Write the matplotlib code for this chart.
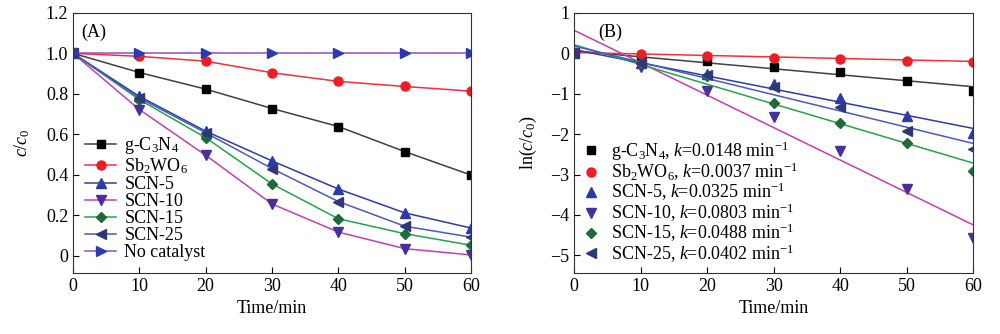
import numpy as np
import matplotlib
matplotlib.use('Agg')
import matplotlib.pyplot as plt

plt.rcParams['font.family'] = ['Liberation Serif', 'DejaVu Serif']
plt.rcParams['mathtext.fontset'] = 'custom'
plt.rcParams['mathtext.rm'] = 'Liberation Serif'
plt.rcParams['mathtext.it'] = 'Liberation Serif:italic'

# 数据
t = [0, 10, 20, 30, 40, 50, 60]
names = ['g-C$_3$N$_4$', 'Sb$_2$WO$_6$', 'SCN-5', 'SCN-10', 'SCN-15', 'SCN-25', 'No catalyst']
g_c3n4 = [1.0, 0.905, 0.823, 0.727, 0.638, 0.514, 0.398]
sb2wo6 = [1.0, 0.985, 0.961, 0.904, 0.861, 0.836, 0.813]
scn5 = [1.0, 0.787, 0.615, 0.468, 0.329, 0.211, 0.136]
scn10 = [1.0, 0.722, 0.496, 0.255, 0.116, 0.034, 0.003]
scn15 = [1.0, 0.771, 0.583, 0.354, 0.182, 0.108, 0.051]
scn25 = [1.0, 0.779, 0.607, 0.430, 0.267, 0.145, 0.091]
no_cat = [1.0, 1.0, 1.0, 1.0, 1.0, 1.0, 1.0]

# ln(c/c0)
ln_g = [0, -0.12, -0.20, -0.33, -0.47, -0.68, -0.94]
ln_sb = [0, -0.02, -0.06, -0.11, -0.15, -0.19, -0.21]
ln_5 = [0, -0.24, -0.52, -0.76, -1.11, -1.55, -1.97]
ln_10 = [0, -0.34, -0.94, -1.57, -2.43, -3.36, -4.56]
ln_15 = [0, -0.25, -0.57, -1.23, -1.72, -2.21, -2.91]
ln_25 = [0, -0.25, -0.53, -0.84, -1.33, -1.92, -2.36]
k_vals = [0.0148, 0.0037, 0.0325, 0.0803, 0.0488, 0.0402]
intercepts = [0.06, 0.02, 0.09, 0.57, 0.21, 0.18]

line_colors = ['#404040', '#f0303a', '#2c3ca8', '#c83cb4', '#22a548', '#4a5ac0', '#9050c0']
mk_colors = ['#000000', '#ee1c24', '#2a3aa8', '#46309c', '#1e6a3a', '#2e3878', '#2a3ab0']
markers = ['s', 'o', '^', 'v', 'D', '<', '>']
msizes = [5.5, 6.5, 6.5, 6.5, 5, 6.5, 6.5]
fs = 13

fig = plt.figure(figsize=(10, 3.34), dpi=100)
ax1 = fig.add_axes([0.073, 0.1835, 0.398, 0.778])
ax2 = fig.add_axes([0.574, 0.1835, 0.3993, 0.778])

series = [g_c3n4, sb2wo6, scn5, scn10, scn15, scn25, no_cat]
for i, ys in enumerate(series):
    ax1.plot(t, ys, color=line_colors[i], marker=markers[i], ms=msizes[i],
             mfc=mk_colors[i], mec=mk_colors[i], lw=1.1, label=names[i])
ax1.set_xlim(0, 60)
ax1.set_ylim(-0.085, 1.2)
ax1.set_xticks(range(0, 61, 10))
ax1.set_yticks([0, 0.2, 0.4, 0.6, 0.8, 1.0, 1.2])
ax1.set_yticklabels(['0', '0.2', '0.4', '0.6', '0.8', '1.0', '1.2'])
ax1.set_xlabel('Time/min', fontsize=fs)
ax1.set_ylabel('$\\mathit{c/c}_0$', fontsize=fs, labelpad=10)
ax1.text(0.02, 0.925, '(A)', transform=ax1.transAxes, fontsize=fs, va='center')
ax1.legend(loc='lower left', bbox_to_anchor=(0.0, 0.0), frameon=False, fontsize=fs,
           handlelength=1.75, labelspacing=0.0, handletextpad=0.45, borderaxespad=0.25)

ln_series = [ln_g, ln_sb, ln_5, ln_10, ln_15, ln_25]
tt = np.array([0, 60])
for i, ys in enumerate(ln_series):
    ax2.plot(tt, intercepts[i] - k_vals[i] * tt, color=line_colors[i], lw=1.1)
    ax2.plot(t, ys, ls='none', marker=markers[i], ms=msizes[i],
             mfc=mk_colors[i], mec=mk_colors[i],
             label=names[i] + ', $\\mathit{k}$=%.4f min$^{-1}$' % k_vals[i])
ax2.set_xlim(0, 60)
ax2.set_ylim(-5.43, 1)
ax2.set_xticks(range(0, 61, 10))
ax2.set_yticks([-5, -4, -3, -2, -1, 0, 1])
ax2.set_yticklabels(['\u22125', '\u22124', '\u22123', '\u22122', '\u22121', '0', '1'])
ax2.set_xlabel('Time/min', fontsize=fs)
ax2.set_ylabel('ln($\\mathit{c/c}_0$)', fontsize=fs, labelpad=8)
ax2.text(0.06, 0.925, '(B)', transform=ax2.transAxes, fontsize=fs, va='center')
ax2.legend(loc='lower left', bbox_to_anchor=(0.0, 0.0), frameon=False, fontsize=fs,
           handlelength=1.0, labelspacing=-0.1, handletextpad=0.6, borderaxespad=0.05)

for ax in (ax1, ax2):
    ax.tick_params(direction='in', labelsize=fs, length=4)
    for s in ax.spines.values():
        s.set_color('#333333')

plt.savefig('out.png', dpi=100)
